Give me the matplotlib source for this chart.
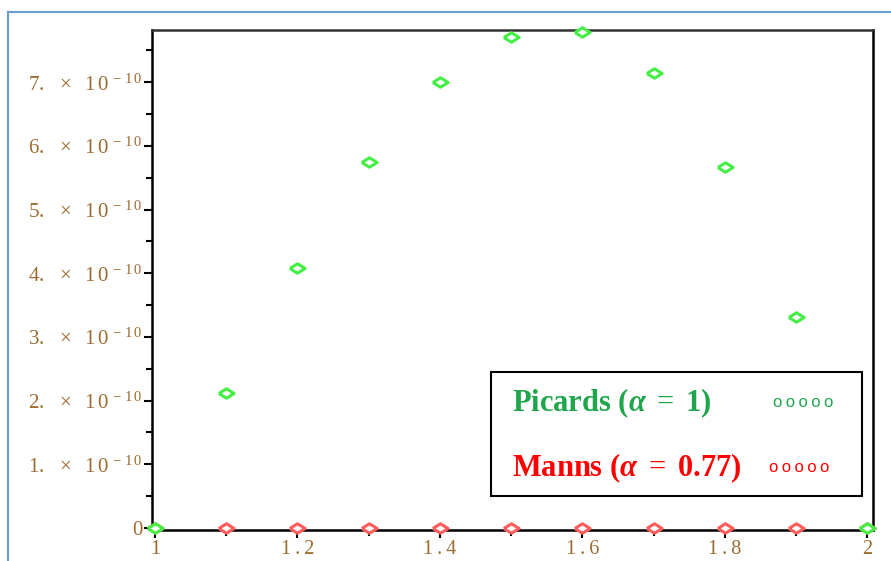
import matplotlib
matplotlib.use("Agg")
import matplotlib.pyplot as plt
from matplotlib.lines import Line2D
from matplotlib.patches import Rectangle
from matplotlib.ticker import FixedLocator, FuncFormatter

plt.rcParams['font.family'] = ['Liberation Serif', 'DejaVu Serif']
plt.rcParams['mathtext.fontset'] = 'custom'
plt.rcParams['mathtext.rm'] = 'Liberation Serif'
plt.rcParams['mathtext.it'] = 'Liberation Serif:italic'
plt.rcParams['mathtext.bf'] = 'Liberation Serif:bold'
plt.rcParams['mathtext.bfit'] = 'Liberation Serif:italic:bold'

# data
x_vals = [1.0, 1.1, 1.2, 1.3, 1.4, 1.5, 1.6, 1.7, 1.8, 1.9, 2.0]
picard = [0, 2.12e-10, 4.08e-10, 5.75e-10, 7.00e-10, 7.71e-10,
          7.79e-10, 7.14e-10, 5.67e-10, 3.31e-10, 0]
mann = [0, 0, 0, 0, 0, 0, 0, 0, 0, 0, 0]

y_ticks = [0, 1e-10, 2e-10, 3e-10, 4e-10, 5e-10, 6e-10, 7e-10]
x_ticks = [1.0, 1.2, 1.4, 1.6, 1.8, 2.0]
x_labels = ["1", "1.2", "1.4", "1.6", "1.8", "2"]

green_pt = '#45EE45'
red_pt = '#FF5C5C'
green_txt = '#1FA64C'
red_txt = '#FF0000'
label_col = '#9C6B30'

# flattened diamond like maple's symbol
diamond = [(-1, 0), (0, 0.62), (1, 0), (0, -0.62), (-1, 0)]

fig = plt.figure(figsize=(8.91, 5.61), dpi=100)
ax = fig.add_axes([0.1706, 0.0553, 0.8092, 0.8912])

ax.plot(x_vals, mann, ls='none', marker=diamond, ms=11, mew=2.2,
        mfc='white', mec=red_pt, clip_on=False, zorder=3)
ax.plot(x_vals, picard, ls='none', marker=diamond, ms=11, mew=2.2,
        mfc='white', mec=green_pt, clip_on=False, zorder=4)

ax.set_xlim(0.9958, 2.008)
ax.set_ylim(-0.031e-10, 7.82e-10)

ax.xaxis.set_major_locator(FixedLocator(x_ticks))
ax.xaxis.set_minor_locator(FixedLocator([1.1, 1.3, 1.5, 1.7, 1.9]))
# letter spaced like the maple output
ax.set_xticklabels(["\u2009".join(s) for s in x_labels])
ax.yaxis.set_major_locator(FixedLocator(y_ticks))
ax.yaxis.set_minor_locator(FixedLocator([0.5e-10 + k * 1e-10 for k in range(8)]))

def ylab(v, pos):
    k = int(round(v / 1e-10))
    if k == 0:
        return "0"
    # maple spreads these labels out quite a bit
    return r"$\mathrm{%d.}\ \ \times\ \ \mathrm{1\,0}^{\,-\,\mathrm{1\,0}}$" % k

ax.yaxis.set_major_formatter(FuncFormatter(ylab))

ax.tick_params(axis='y', which='major', direction='out', length=6,
               width=1.5, labelsize=15, labelcolor=label_col, pad=1)
ax.tick_params(axis='x', which='major', direction='out', length=6,
               width=1.5, labelsize=14.5, labelcolor=label_col, pad=1)
ax.tick_params(axis='both', which='minor', direction='out', length=4, width=1.5)

for s in ax.spines.values():
    s.set_linewidth(1.8)
    s.set_color('black')
ax.spines['top'].set_color('#333333')

# legend box drawn by hand: label on the left, sample circles on the right
ax.add_patch(Rectangle((0.470, 0.068), 0.515, 0.248, transform=ax.transAxes,
                       fill=True, facecolor='white', edgecolor='black',
                       lw=1.5, clip_on=False, zorder=5))
ax.text(0.499, 0.253, r"Picards ($\boldsymbol{\alpha}\ =\ \mathbf{1}$)",
        transform=ax.transAxes, ha='left', va='center', fontsize=22,
        fontweight='bold', color=green_txt, zorder=6)
ax.text(0.499, 0.123, r"Manns ($\boldsymbol{\alpha}\ =\ \mathbf{0.77}$)",
        transform=ax.transAxes, ha='left', va='center', fontsize=22,
        fontweight='bold', color=red_txt, zorder=6)
circles = "\u2009".join("ooooo")
ax.text(0.903, 0.255, circles, transform=ax.transAxes, ha='center',
        va='center', fontsize=12, family='Liberation Sans', color=green_txt, zorder=6)
ax.text(0.897, 0.125, circles, transform=ax.transAxes, ha='center',
        va='center', fontsize=12, family='Liberation Sans', color=red_txt, zorder=6)

# blue frame around the picture
fig.add_artist(Line2D([8 / 891, 8 / 891], [0, 1 - 12 / 561], color='#6C9BD2', lw=1.5))
fig.add_artist(Line2D([8 / 891, 1], [1 - 12 / 561, 1 - 12 / 561], color='#6C9BD2', lw=1.5))

fig.savefig("out.png", dpi=100)
